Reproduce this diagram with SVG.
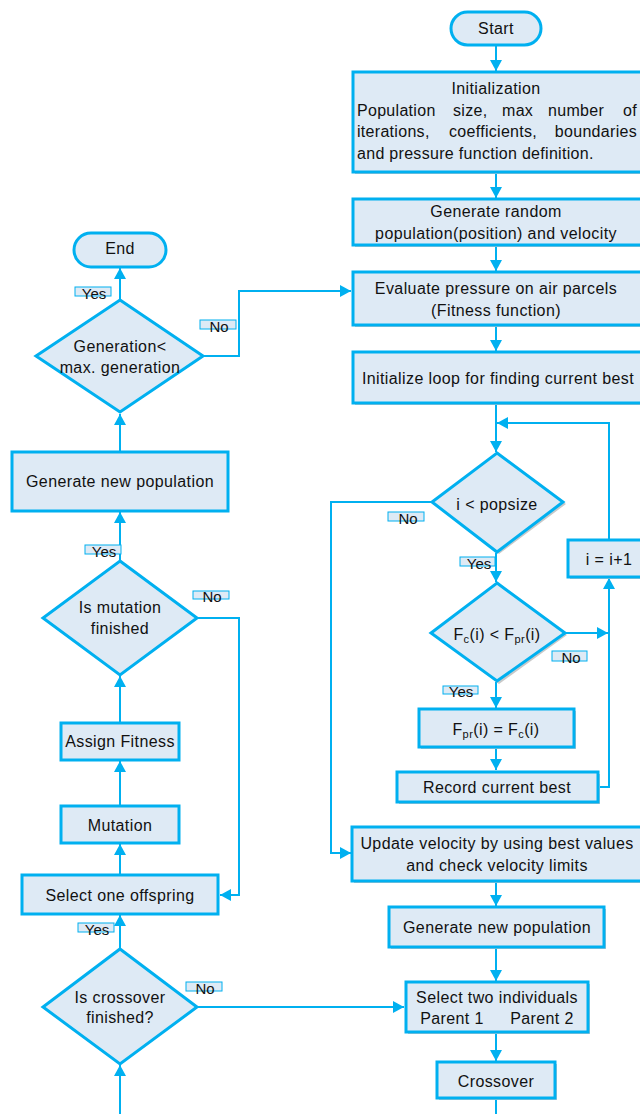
<svg xmlns="http://www.w3.org/2000/svg" width="640" height="1114" viewBox="0 0 640 1114">
<style>
.n{fill:#DEEAF5;stroke:#00B0F0;stroke-width:3}
.sh{fill:#C9C9C9}
.t{font-family:"Liberation Sans",Arial,sans-serif;font-size:16px;letter-spacing:0.4px;fill:#111;text-anchor:middle}
.w{font-family:"Liberation Sans",Arial,sans-serif;font-size:16px;letter-spacing:0.3px;fill:#111}
.c{fill:none;stroke:#00B0F0;stroke-width:2}
.lb{fill:#DEEAF5;stroke:#00B0F0;stroke-width:1}
.lt{font-family:"Liberation Sans",Arial,sans-serif;font-size:15px;fill:#111;text-anchor:middle}
</style>
<defs>
<marker id="a" markerUnits="userSpaceOnUse" markerWidth="12" markerHeight="12" refX="11" refY="6" orient="auto">
<path d="M0,0 L11,6 L0,12 z" fill="#00B0F0"/>
</marker>
</defs>
<rect width="640" height="1114" fill="#fff"/>

<g id="connectors">
<path class="c" d="M496,46 V71" marker-end="url(#a)"/>
<path class="c" d="M496,173 V198" marker-end="url(#a)"/>
<path class="c" d="M496,246 V271" marker-end="url(#a)"/>
<path class="c" d="M496,326 V351" marker-end="url(#a)"/>
<path class="c" d="M496,404 V452" marker-end="url(#a)"/>
<path class="c" d="M609,540 V423 H497" marker-end="url(#a)"/>
<path class="c" d="M496,553 V582" marker-end="url(#a)"/>
<path class="c" d="M432,502 H331 V853 H351" marker-end="url(#a)"/>
<path class="c" d="M565,633 H608" marker-end="url(#a)"/>
<path class="c" d="M496,682 V708" marker-end="url(#a)"/>
<path class="c" d="M496,748 V770" marker-end="url(#a)"/>
<path class="c" d="M599,787 H609 V578" marker-end="url(#a)"/>
<path class="c" d="M496,882 V906" marker-end="url(#a)"/>
<path class="c" d="M496,948 V981" marker-end="url(#a)"/>
<path class="c" d="M496,1033 V1061" marker-end="url(#a)"/>
<path class="c" d="M496,1099 V1114"/>
<path class="c" d="M120,1114 V1065" marker-end="url(#a)"/>
<path class="c" d="M120,949 V915" marker-end="url(#a)"/>
<path class="c" d="M197,1007 H404" marker-end="url(#a)"/>
<path class="c" d="M120,874 V844" marker-end="url(#a)"/>
<path class="c" d="M120,806 V761" marker-end="url(#a)"/>
<path class="c" d="M120,723 V676" marker-end="url(#a)"/>
<path class="c" d="M197,618 H239 V895 H220" marker-end="url(#a)"/>
<path class="c" d="M120,561 V512" marker-end="url(#a)"/>
<path class="c" d="M120,452 V414" marker-end="url(#a)"/>
<path class="c" d="M120,300 V268" marker-end="url(#a)"/>
<path class="c" d="M203,356 H239 V291 H351" marker-end="url(#a)"/>
</g>

<g id="start">
<rect class="n" x="451" y="12" width="90" height="33" rx="16.5"/>
<text class="t" x="496" y="34">Start</text>
</g>

<g id="init">
<rect class="sh" x="355" y="74" width="300" height="100"/>
<rect class="n" x="353" y="72" width="300" height="100"/>
<text class="t" x="496" y="94">Initialization</text>
<text class="w" x="357" y="115.5">Population</text>
<text class="w" x="453" y="115.5">size,</text>
<text class="w" x="502" y="115.5">max</text>
<text class="w" x="548" y="115.5">number</text>
<text class="w" x="637" y="115.5" text-anchor="end">of</text>
<text class="w" x="357" y="137">iterations,</text>
<text class="w" x="449" y="137">coefficients,</text>
<text class="w" x="637" y="137" text-anchor="end">boundaries</text>
<text class="w" x="357" y="159">and pressure function definition.</text>
</g>

<g id="genrandom">
<rect class="sh" x="355" y="201" width="300" height="46"/>
<rect class="n" x="353" y="199" width="300" height="46"/>
<text class="t" x="496" y="217">Generate random</text>
<text class="t" x="496" y="239">population(position) and velocity</text>
</g>

<g id="evaluate">
<rect class="sh" x="355" y="274" width="300" height="53"/>
<rect class="n" x="353" y="272" width="300" height="53"/>
<text class="t" x="496" y="294">Evaluate pressure on air parcels</text>
<text class="t" x="496" y="316">(Fitness function)</text>
</g>

<g id="initloop">
<rect class="sh" x="355" y="354" width="300" height="51"/>
<rect class="n" x="353" y="352" width="300" height="51"/>
<text class="t" x="498" y="384">Initialize loop for finding current best</text>
</g>

<g id="popsize">
<polygon class="sh" points="499,455 566,504 499,554 434,504"/>
<polygon class="n" points="497,453 563,502 497,552 432,502"/>
<text class="t" x="497" y="510">i &lt; popsize</text>
</g>

<g id="incr">
<rect class="sh" x="570" y="542" width="82" height="37"/>
<rect class="n" x="568" y="540" width="82" height="37"/>
<text class="t" x="609" y="565">i = i+1</text>
</g>

<g id="compare">
<polygon class="sh" points="499,585 567,635 499,684 433,635"/>
<polygon class="n" points="497,583 565,633 497,681 431,633"/>
<text class="t" x="497" y="640">F<tspan font-size="11" dy="3">c</tspan><tspan dy="-3">(i) &lt; F</tspan><tspan font-size="11" dy="3">pr</tspan><tspan dy="-3">(i)</tspan></text>
</g>

<g id="assignbest">
<rect class="sh" x="421" y="711" width="155" height="38"/>
<rect class="n" x="419" y="709" width="155" height="38"/>
<text class="t" x="496" y="735">F<tspan font-size="11" dy="3">pr</tspan><tspan dy="-3">(i) = F</tspan><tspan font-size="11" dy="3">c</tspan><tspan dy="-3">(i)</tspan></text>
</g>

<g id="record">
<rect class="sh" x="399" y="774" width="201" height="30"/>
<rect class="n" x="397" y="772" width="201" height="30"/>
<text class="t" x="497" y="793">Record current best</text>
</g>

<g id="update">
<rect class="sh" x="354" y="829" width="300" height="54"/>
<rect class="n" x="352" y="827" width="300" height="54"/>
<text class="t" x="497" y="849">Update velocity by using best values</text>
<text class="t" x="497" y="871">and check velocity limits</text>
</g>

<g id="gennewright">
<rect class="sh" x="391" y="909" width="215" height="40"/>
<rect class="n" x="389" y="907" width="215" height="40"/>
<text class="t" x="497" y="933">Generate new population</text>
</g>

<g id="selecttwo">
<rect class="sh" x="408" y="984" width="182" height="50"/>
<rect class="n" x="406" y="982" width="182" height="50"/>
<text class="t" x="497" y="1003">Select two individuals</text>
<text class="t" x="452" y="1024">Parent 1</text>
<text class="t" x="542" y="1024">Parent 2</text>
</g>

<g id="crossover">
<rect class="sh" x="439" y="1064" width="118" height="36"/>
<rect class="n" x="437" y="1062" width="118" height="36"/>
<text class="t" x="496" y="1087">Crossover</text>
</g>

<g id="end">
<rect class="n" x="74" y="233" width="92" height="34" rx="17"/>
<text class="t" x="120" y="254">End</text>
</g>

<g id="gencheck">
<polygon class="n" points="120,300 203,356 120,412 36,356"/>
<text class="t" x="120" y="352">Generation&lt;</text>
<text class="t" x="120" y="373">max. generation</text>
</g>

<g id="gennewleft">
<rect class="n" x="12" y="452" width="216" height="59"/>
<text class="t" x="120" y="487">Generate new population</text>
</g>

<g id="mutcheck">
<polygon class="n" points="120,561 197,618 120,675 43,618"/>
<text class="t" x="120" y="613">Is mutation</text>
<text class="t" x="120" y="634">finished</text>
</g>

<g id="assignfit">
<rect class="n" x="61" y="723" width="118" height="37"/>
<text class="t" x="120" y="747">Assign Fitness</text>
</g>

<g id="mutation">
<rect class="n" x="61" y="806" width="118" height="37"/>
<text class="t" x="120" y="831">Mutation</text>
</g>

<g id="selectone">
<rect class="n" x="22" y="875" width="196" height="39"/>
<text class="t" x="120" y="901">Select one offspring</text>
</g>

<g id="crosscheck">
<polygon class="n" points="120,949 197,1007 120,1064 43,1007"/>
<text class="t" x="120" y="1003">Is crossover</text>
<text class="t" x="120" y="1023">finished?</text>
</g>

<g id="labels">
<rect class="lb" x="75" y="287" width="36" height="9"/><text class="lt" x="94" y="299">Yes</text>
<rect class="lb" x="200" y="320" width="36" height="9"/><text class="lt" x="219" y="332">No</text>
<rect class="lb" x="85" y="545" width="36" height="9"/><text class="lt" x="104" y="557">Yes</text>
<rect class="lb" x="193" y="591" width="36" height="8"/><text class="lt" x="212" y="602">No</text>
<rect class="lb" x="78" y="923" width="36" height="9"/><text class="lt" x="97" y="935">Yes</text>
<rect class="lb" x="186" y="982" width="36" height="9"/><text class="lt" x="205" y="994">No</text>
<rect class="lb" x="388" y="512" width="36" height="9"/><text class="lt" x="408" y="524">No</text>
<rect class="lb" x="460" y="557" width="35" height="9"/><text class="lt" x="479" y="569">Yes</text>
<rect class="lb" x="552" y="651" width="35" height="10"/><text class="lt" x="571" y="663">No</text>
<rect class="lb" x="443" y="686" width="35" height="8"/><text class="lt" x="461" y="697">Yes</text>
</g>
</svg>
